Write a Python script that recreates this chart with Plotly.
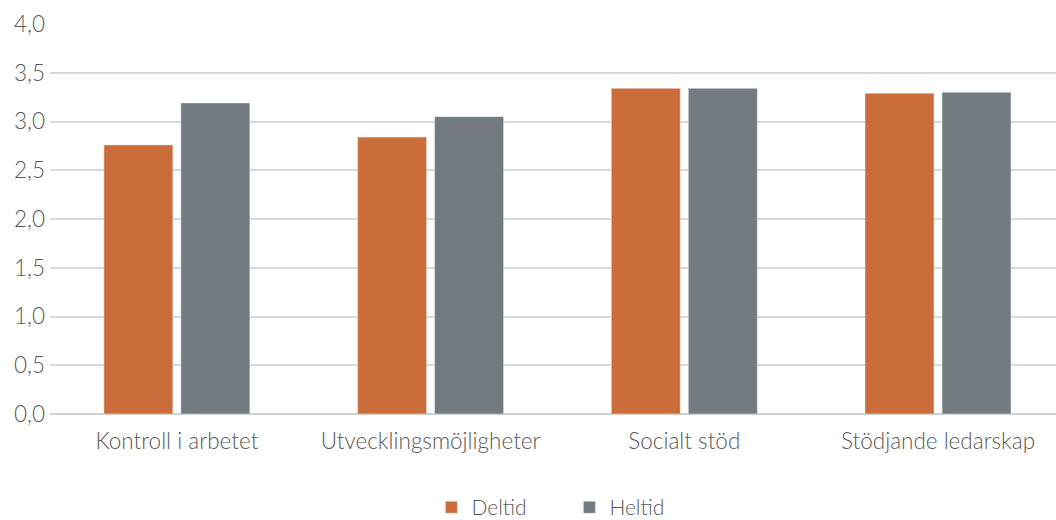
import plotly.graph_objects as go

categories = ["Kontroll i arbetet", "Utvecklingsmöjligheter", "Socialt stöd", "Stödjande ledarskap"]
deltid = [2.76, 2.84, 3.34, 3.29]
heltid = [3.19, 3.05, 3.34, 3.30]
y_ticks = [0, 0.5, 1.0, 1.5, 2.0, 2.5, 3.0, 3.5, 4.0]

FONT = "Lato Light, Lato, Open Sans, sans-serif"
TXT = "#595959"

fig = go.Figure()
fig.add_trace(go.Bar(name="Deltid", x=categories, y=deltid, marker_color="#CB6D3B"))
fig.add_trace(go.Bar(name="Heltid", x=categories, y=heltid, marker_color="#737B80"))

fig.update_layout(
    width=1056, height=520,
    margin=dict(l=50, r=0, t=24, b=106, autoexpand=False),
    paper_bgcolor="white", plot_bgcolor="white",
    barmode="group", bargap=0.393, bargroupgap=0.104,
    separators=",.",
    font=dict(family=FONT, size=22, color=TXT, weight=300),
    showlegend=True,
    legend=dict(orientation="h", xref="container", x=0.4085, xanchor="left",
                y=-0.24, yanchor="middle",
                font=dict(family=FONT, size=21, color=TXT, weight=300),
                itemwidth=30, entrywidth=93, tracegroupgap=0),
    xaxis=dict(range=[-0.5, 3.465], showgrid=False, showline=False, ticks="",
               ticklabelstandoff=11,
               tickfont=dict(family=FONT, size=22.5, color=TXT, weight=300)),
    yaxis=dict(range=[0, 4.0], tickvals=y_ticks, tickformat=".1f",
               showgrid=True, gridcolor="#d9d9d9", gridwidth=1.5,
               zeroline=True, zerolinecolor="#d0d0d0", zerolinewidth=2,
               showline=False, ticks="", ticklabelstandoff=4,
               tickfont=dict(family=FONT, size=22.5, color=TXT, weight=300)),
)

fig.write_html("out.html")
